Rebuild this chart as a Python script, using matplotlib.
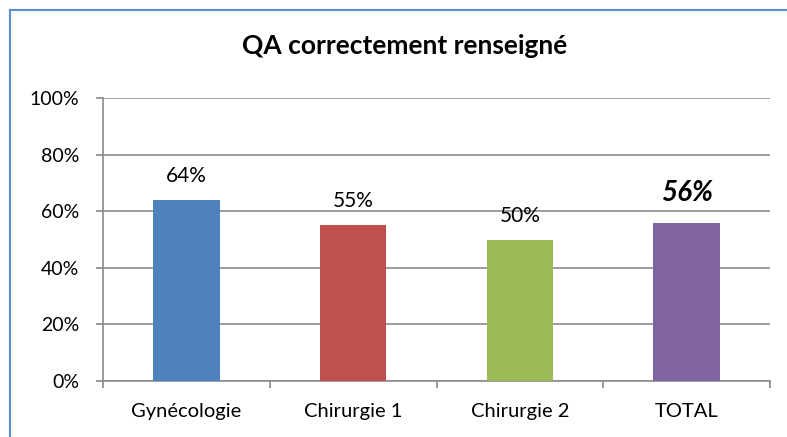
import matplotlib.pyplot as plt
from matplotlib.lines import Line2D

categories = ['Gynécologie', 'Chirurgie 1', 'Chirurgie 2', 'TOTAL']
values = [64, 55, 50, 56]
labels = ['64%', '55%', '50%', '56%']
colors = ['#4F81BD', '#C0504D', '#9BBB59', '#8064A2']

plt.rcParams['font.family'] = ['Lato', 'DejaVu Sans']

fig = plt.figure(figsize=(7.87, 4.37), dpi=100)
ax = fig.add_axes([103 / 787, 1 - 381 / 437, 667 / 787, 283 / 437])

x = range(len(categories))
ax.bar(x, values, width=0.4, color=colors, zorder=3)

for i, (v, lab) in enumerate(zip(values, labels)):
    if categories[i] == 'TOTAL':
        ax.annotate(lab, (i, v), xytext=(0, 12), textcoords='offset points',
                    ha='center', va='bottom', fontsize=20, fontweight='bold',
                    fontstyle='italic')
    else:
        ax.annotate(lab, (i, v), xytext=(0, 10), textcoords='offset points',
                    ha='center', va='bottom', fontsize=15)

ax.set_xlim(-0.5, len(categories) - 0.5)
ax.set_ylim(0, 100)
ax.set_yticks(range(0, 101, 20))
ax.set_yticklabels([f'{t}%' for t in range(0, 101, 20)], fontsize=14)
ax.set_xticks(list(x))
ax.set_xticklabels(categories, fontsize=14.5)
ax.set_xticks([i - 0.5 for i in range(len(categories) + 1)], minor=True)
ax.tick_params(axis='x', which='major', length=0, pad=15.5)
ax.tick_params(axis='x', which='minor', length=5, color='#888888', width=1.2)
ax.tick_params(axis='y', length=5, color='#888888', width=1.2, pad=12)

ax.grid(axis='y', color='#8c8c8c', linewidth=1.2, zorder=0)
for side in ['top', 'right']:
    ax.spines[side].set_visible(False)
for side in ['left', 'bottom']:
    ax.spines[side].set_color('#8c8c8c')
    ax.spines[side].set_linewidth(1.2)

fig.text(405 / 787, 1 - 46 / 437, 'QA correctement renseigné',
         ha='center', va='center', fontsize=19, fontweight='bold')

# chart frame (left and top edges)
fig.add_artist(Line2D([10 / 787, 10 / 787], [0, 1 - 10 / 437],
                      transform=fig.transFigure, color='#5B8FD0', linewidth=1.5))
fig.add_artist(Line2D([10 / 787, 1], [1 - 10 / 437, 1 - 10 / 437],
                      transform=fig.transFigure, color='#5B8FD0', linewidth=1.5))

fig.savefig('out.png', dpi=100)
